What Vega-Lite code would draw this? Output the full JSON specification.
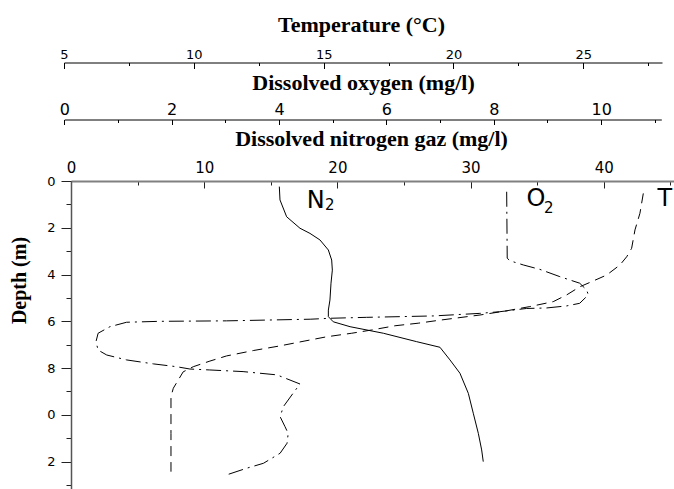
{
  "$schema": "https://vega.github.io/schema/vega-lite/v6.json",
  "width": 603,
  "height": 308,
  "autosize": "none",
  "padding": {"left": 71, "top": 181, "right": 0, "bottom": 0},
  "background": "white",
  "config": {"view": {"stroke": null}, "axis": {"grid": false, "labelOverlap": false, "labelFlush": false, "labelBound": false}},
  "datasets": {
    "temp": [
      {"temp": 27.31, "depth": 0.53}, {"temp": 27.18, "depth": 1.38}, {"temp": 26.99, "depth": 2.09},
      {"temp": 26.86, "depth": 2.88}, {"temp": 26.67, "depth": 3.24}, {"temp": 26.41, "depth": 3.59},
      {"temp": 25.90, "depth": 4.02}, {"temp": 25.33, "depth": 4.30}, {"temp": 24.87, "depth": 4.52},
      {"temp": 24.36, "depth": 4.87}, {"temp": 23.84, "depth": 5.16}, {"temp": 22.94, "depth": 5.37},
      {"temp": 22.05, "depth": 5.55}, {"temp": 21.02, "depth": 5.73}, {"temp": 19.48, "depth": 5.95},
      {"temp": 18.64, "depth": 6.08}, {"temp": 17.75, "depth": 6.19}, {"temp": 16.85, "depth": 6.37},
      {"temp": 16.08, "depth": 6.51}, {"temp": 15.12, "depth": 6.66}, {"temp": 14.28, "depth": 6.84},
      {"temp": 13.32, "depth": 7.05}, {"temp": 12.29, "depth": 7.25}, {"temp": 11.26, "depth": 7.48},
      {"temp": 10.62, "depth": 7.70}, {"temp": 9.98, "depth": 7.94}, {"temp": 9.59, "depth": 8.16},
      {"temp": 9.40, "depth": 8.51}, {"temp": 9.21, "depth": 8.86}, {"temp": 9.12, "depth": 9.22},
      {"temp": 9.12, "depth": 10.8}, {"temp": 9.12, "depth": 12.43}
    ],
    "oxygen": [
      {"o2": 8.24, "depth": 0.46}, {"o2": 8.25, "depth": 3.30}, {"o2": 8.30, "depth": 3.41},
      {"o2": 8.55, "depth": 3.59}, {"o2": 8.86, "depth": 3.78}, {"o2": 9.23, "depth": 4.09},
      {"o2": 9.60, "depth": 4.37}, {"o2": 9.73, "depth": 4.66}, {"o2": 9.76, "depth": 4.87},
      {"o2": 9.60, "depth": 5.23}, {"o2": 9.36, "depth": 5.34}, {"o2": 8.98, "depth": 5.43},
      {"o2": 8.61, "depth": 5.45}, {"o2": 8.11, "depth": 5.59}, {"o2": 7.74, "depth": 5.66},
      {"o2": 6.87, "depth": 5.77}, {"o2": 5.63, "depth": 5.83}, {"o2": 4.95, "depth": 5.87},
      {"o2": 4.58, "depth": 5.91}, {"o2": 3.02, "depth": 5.98}, {"o2": 1.78, "depth": 6.00},
      {"o2": 1.16, "depth": 6.04}, {"o2": 0.85, "depth": 6.23}, {"o2": 0.63, "depth": 6.51},
      {"o2": 0.59, "depth": 6.87}, {"o2": 0.63, "depth": 7.23}, {"o2": 0.79, "depth": 7.44},
      {"o2": 1.16, "depth": 7.65}, {"o2": 1.66, "depth": 7.82}, {"o2": 2.09, "depth": 7.94},
      {"o2": 2.34, "depth": 8.04}, {"o2": 2.71, "depth": 8.08}, {"o2": 3.33, "depth": 8.15},
      {"o2": 3.96, "depth": 8.29}, {"o2": 4.39, "depth": 8.68}, {"o2": 4.26, "depth": 9.08},
      {"o2": 4.08, "depth": 9.65}, {"o2": 4.02, "depth": 10.08}, {"o2": 4.11, "depth": 10.50},
      {"o2": 4.17, "depth": 10.79}, {"o2": 4.15, "depth": 11.21}, {"o2": 4.02, "depth": 11.64},
      {"o2": 3.71, "depth": 12.07}, {"o2": 3.40, "depth": 12.28}, {"o2": 3.02, "depth": 12.57}
    ],
    "nitrogen": [
      {"n2": 15.64, "depth": 0.24}, {"n2": 15.69, "depth": 0.81}, {"n2": 16.19, "depth": 1.53},
      {"n2": 17.19, "depth": 2.02}, {"n2": 17.94, "depth": 2.24}, {"n2": 18.69, "depth": 2.52},
      {"n2": 19.32, "depth": 2.95}, {"n2": 19.57, "depth": 3.38}, {"n2": 19.62, "depth": 3.81},
      {"n2": 19.52, "depth": 4.37}, {"n2": 19.44, "depth": 5.09}, {"n2": 19.32, "depth": 5.52},
      {"n2": 19.32, "depth": 5.80}, {"n2": 19.69, "depth": 6.02}, {"n2": 20.95, "depth": 6.23},
      {"n2": 23.45, "depth": 6.51}, {"n2": 25.95, "depth": 6.87}, {"n2": 27.70, "depth": 7.11},
      {"n2": 28.45, "depth": 7.65}, {"n2": 29.20, "depth": 8.22}, {"n2": 29.83, "depth": 9.08},
      {"n2": 30.20, "depth": 9.93}, {"n2": 30.58, "depth": 10.79}, {"n2": 30.83, "depth": 11.50},
      {"n2": 30.95, "depth": 12.00}
    ],
    "labels": [
      {"text": "N", "n2": 17.69, "depth": 1.17},
      {"text": "O", "n2": 34.19, "depth": 1.07},
      {"text": "T", "n2": 44.03, "depth": 1.07}
    ],
    "subs": [
      {"text": "2", "n2": 19.07, "depth": 1.24},
      {"text": "2", "n2": 35.51, "depth": 1.38}
    ]
  },
  "layer": [
    {
      "data": {"name": "temp"},
      "mark": {"type": "line", "color": "black", "strokeWidth": 1, "strokeDash": [10, 6]},
      "encoding": {
        "x": {
          "field": "temp", "type": "quantitative",
          "scale": {"domain": [5, 28.03], "range": [-7, 591], "nice": false, "zero": false},
          "axis": {
            "orient": "top", "offset": 118.5,
            "values": [5, 7.5, 10, 12.5, 15, 17.5, 20, 22.5, 25, 27.5],
            "labelExpr": "datum.value % 5 === 0 ? format(datum.value, 'd') : ''",
            "tickSize": {"condition": {"test": "datum.value % 5 === 0", "value": -6}, "value": -3},
            "labelPadding": 10.5, "labelBaseline": "alphabetic",
            "labelFont": "DejaVu Sans", "labelFontSize": 13, "labelColor": "black",
            "domainColor": "black", "tickColor": "black", "domainWidth": 1, "tickWidth": 1,
            "title": "Temperature (°C)", "titleFont": "Liberation Serif", "titleFontWeight": "bold",
            "titleFontSize": 22, "titleColor": "black", "titleX": 290, "titleY": -31.5,
            "titleBaseline": "alphabetic", "titleAlign": "center"
          }
        },
        "y": {"field": "depth", "type": "quantitative", "scale": {"domain": [0, 13.17], "reverse": true, "nice": false, "zero": false}, "axis": null},
        "order": {"field": "depth", "type": "quantitative"}
      }
    },
    {
      "data": {"name": "oxygen"},
      "mark": {"type": "line", "color": "black", "strokeWidth": 1, "strokeDash": [15, 5, 2, 5]},
      "encoding": {
        "x": {
          "field": "o2", "type": "quantitative",
          "scale": {"domain": [0, 11.12], "range": [-6.7, 590.3], "nice": false, "zero": false},
          "axis": {
            "orient": "top", "offset": 61.5,
            "values": [0, 1, 2, 3, 4, 5, 6, 7, 8, 9, 10, 11],
            "labelExpr": "datum.value % 2 === 0 ? format(datum.value, 'd') : ''",
            "tickSize": {"condition": {"test": "datum.value % 2 === 0", "value": -5}, "value": -3},
            "labelPadding": 10, "labelBaseline": "alphabetic",
            "labelFont": "DejaVu Sans", "labelFontSize": 16, "labelColor": "black",
            "domainColor": "black", "tickColor": "black", "domainWidth": 1, "tickWidth": 1,
            "title": "Dissolved oxygen (mg/l)", "titleFont": "Liberation Serif", "titleFontWeight": "bold",
            "titleFontSize": 22, "titleColor": "black", "titleX": 292, "titleY": -30,
            "titleBaseline": "alphabetic", "titleAlign": "center"
          }
        },
        "y": {"field": "depth", "type": "quantitative", "scale": {"domain": [0, 13.17], "reverse": true, "nice": false, "zero": false}, "axis": null},
        "order": {"field": "depth", "type": "quantitative"}
      }
    },
    {
      "data": {"name": "nitrogen"},
      "mark": {"type": "line", "color": "black", "strokeWidth": 1},
      "encoding": {
        "x": {
          "field": "n2", "type": "quantitative",
          "scale": {"domain": [0, 45.27], "nice": false, "zero": false},
          "axis": {
            "orient": "top", "offset": 0,
            "values": [0, 5, 10, 15, 20, 25, 30, 35, 40, 45],
            "labelExpr": "datum.value % 10 === 0 ? format(datum.value, 'd') : ''",
            "tickSize": {"condition": {"test": "datum.value % 10 === 0", "value": -7}, "value": -4},
            "labelPadding": 15.8, "labelBaseline": "alphabetic",
            "labelFont": "DejaVu Sans", "labelFontSize": 15, "labelColor": "black",
            "domainColor": "#808080", "domainWidth": 2, "tickColor": "#222222", "tickWidth": 1,
            "title": "Dissolved nitrogen gaz (mg/l)", "titleFont": "Liberation Serif", "titleFontWeight": "bold",
            "titleFontSize": 22, "titleColor": "black", "titleX": 300, "titleY": -36,
            "titleBaseline": "alphabetic", "titleAlign": "center"
          }
        },
        "y": {
          "field": "depth", "type": "quantitative",
          "scale": {"domain": [0, 13.17], "reverse": true, "nice": false, "zero": false},
          "axis": {
            "orient": "left",
            "values": [0, 1, 2, 3, 4, 5, 6, 7, 8, 9, 10, 11, 12, 13],
            "labelExpr": "datum.value % 2 === 0 ? format(datum.value % 10, 'd') : ''",
            "tickSize": {"condition": {"test": "datum.value % 2 === 0", "value": 10}, "value": 5},
            "labelPadding": 6,
            "labelFont": "DejaVu Sans", "labelFontSize": 13, "labelColor": "black",
            "domainColor": "#555555", "domainWidth": 1.5, "tickColor": "#222222", "tickWidth": 1,
            "title": "Depth (m)", "titleFont": "Liberation Serif", "titleFontWeight": "bold",
            "titleFontSize": 20, "titleColor": "black", "titleAngle": 270,
            "titleX": -46, "titleY": 99, "titleBaseline": "alphabetic", "titleAlign": "center"
          }
        },
        "order": {"field": "depth", "type": "quantitative"}
      }
    },
    {
      "data": {"name": "labels"},
      "mark": {"type": "text", "font": "DejaVu Sans", "fontSize": 24, "align": "left", "baseline": "alphabetic", "color": "black"},
      "encoding": {
        "x": {"field": "n2", "type": "quantitative", "scale": {"domain": [0, 45.27], "nice": false, "zero": false}, "axis": null},
        "y": {"field": "depth", "type": "quantitative", "scale": {"domain": [0, 13.17], "reverse": true, "nice": false, "zero": false}, "axis": null},
        "text": {"field": "text"}
      }
    },
    {
      "data": {"name": "subs"},
      "mark": {"type": "text", "font": "DejaVu Sans", "fontSize": 15, "align": "left", "baseline": "alphabetic", "color": "black"},
      "encoding": {
        "x": {"field": "n2", "type": "quantitative", "scale": {"domain": [0, 45.27], "nice": false, "zero": false}, "axis": null},
        "y": {"field": "depth", "type": "quantitative", "scale": {"domain": [0, 13.17], "reverse": true, "nice": false, "zero": false}, "axis": null},
        "text": {"field": "text"}
      }
    }
  ],
  "resolve": {"scale": {"x": "independent"}, "axis": {"x": "independent", "y": "independent"}}
}
